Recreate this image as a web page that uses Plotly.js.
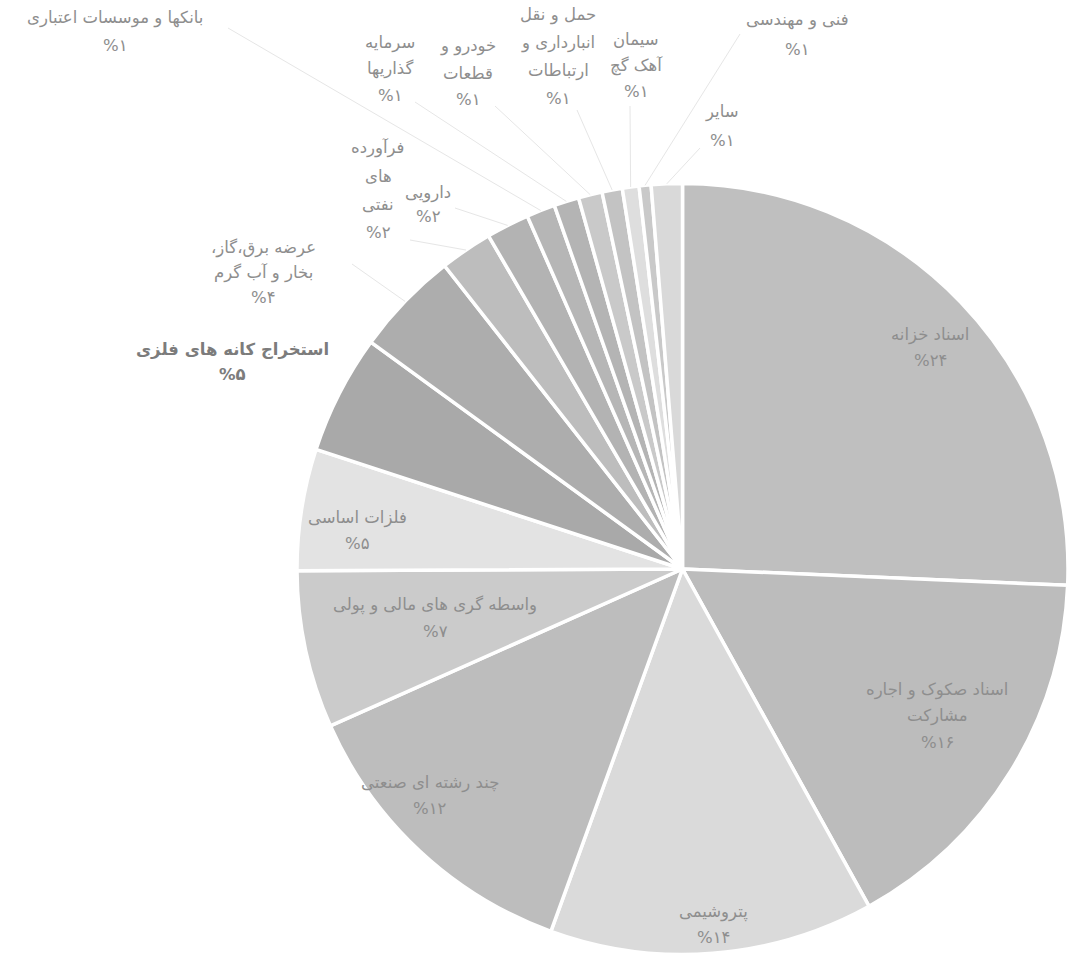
<!DOCTYPE html>
<html>
<head>
<meta charset="utf-8">
<script src="https://cdn.plot.ly/plotly-3.0.1.min.js"></script>
<style>
  html, body { margin: 0; padding: 0; background: #ffffff; }
  #chart { width: 1068px; height: 957px; }
</style>
</head>
<body>
<div id="chart"></div>
<script>
// ---------------- data ----------------
const categories = [
  "اسناد خزانه",
  "اسناد صکوک و اجاره<br>مشارکت",
  "پتروشیمی",
  "چند رشته ای صنعتی",
  "واسطه گری های مالی و پولی",
  "فلزات اساسی",
  "استخراج کانه های فلزی",
  "،عرضه برق،گاز<br>بخار و آب گرم",
  "فرآورده<br>های<br>نفتی",
  "دارویی",
  "بانکها و موسسات اعتباری",
  "سرمایه<br>گذاریها",
  "خودرو و<br>قطعات",
  "حمل و نقل<br>انبارداری و<br>ارتباطات",
  "سیمان<br>آهک گچ",
  "فنی و مهندسی",
  "سایر"
];
const values = [25.7, 16.3, 13.6, 12.8, 6.6, 5.1, 5.0, 4.4, 2.2, 1.8, 1.2, 1.05, 1.0, 0.85, 0.7, 0.5, 1.3];
const pctLabels = [24, 16, 14, 12, 7, 5, 5, 4, 2, 2, 1, 1, 1, 1, 1, 1, 1];

// ---------------- styles / layout ----------------
const sliceColors = ["#bfbfbf", "#bcbcbc", "#dadada", "#bdbdbd", "#cbcbcb", "#e3e3e3", "#a9a9a9", "#adadad",
                     "#bdbdbd", "#b3b3b3", "#b6b6b6", "#b4b4b4", "#c9c9c9", "#c3c3c3", "#dedede", "#c9c9c9", "#d9d9d9"];
const W = 1068, H = 957;
const domX = [297 / W, 1];
const domY = [2 / H, 1 - 183 / H];
// text placement (pixels): [centre x, first line y, line step]
const labelPos = [
  [930, 335, 26], [937, 690, 26], [713, 912, 25], [430, 783, 25], [435, 605, 26], [357, 518, 25],
  [232, 350, 25], [263, 248, 25], [378, 148, 28], [428, 193, 23], [115, 18, 27], [390, 43, 26],
  [468, 46, 27], [558, 15, 28], [636, 40, 26], [797, 20, 30], [722, 112, 28]
];
// end of leader line next to the label (pixels), null = none
const leaderEnd = [null, null, null, null, null, null, null,
  [352, 264], [410, 240], [455, 208], [228, 28], [415, 102], [495, 106], [577, 110], [630, 106], [740, 34], [700, 148]];
const boldLabel = [false, false, false, false, false, false, true, false, false, false, false, false, false, false, false, false, false];

// ---------------- helpers ----------------
const fa = n => String(n).replace(/\d/g, d => "۰۱۲۳۴۵۶۷۸۹"[+d]);
const px2x = px => px / W;
const py2y = py => 1 - py / H;

const CX = W * (domX[0] + domX[1]) / 2;
const CY = H * (1 - (domY[0] + domY[1]) / 2);
const R = Math.min(W * (domX[1] - domX[0]), H * (domY[1] - domY[0])) / 2;

const total = values.reduce((a, b) => a + b, 0);
const annotations = [];
const shapes = [];
let cum = 0;
values.forEach((v, i) => {
  const mid = (cum + v / 2) / total * 2 * Math.PI;
  cum += v;
  const lines = categories[i].split("<br>").concat(["%" + fa(pctLabels[i])]);
  const [lx, ly, step] = labelPos[i];
  lines.forEach((t, k) => {
    annotations.push({
      xref: "paper", yref: "paper",
      x: px2x(lx), y: py2y(ly + k * step),
      xanchor: "center", yanchor: "middle",
      text: boldLabel[i] ? "<b>" + t + "</b>" : t,
      showarrow: false,
      font: { family: "DejaVu Sans, sans-serif", size: 16.5, color: boldLabel[i] ? "#7c7c7c" : "#8e8e8e" }
    });
  });
  if (leaderEnd[i]) {
    const rx = CX + R * Math.sin(mid), ry = CY - R * Math.cos(mid);
    shapes.push({
      type: "line", xref: "paper", yref: "paper",
      x0: px2x(rx), y0: py2y(ry), x1: px2x(leaderEnd[i][0]), y1: py2y(leaderEnd[i][1]),
      line: { color: "#e6e6e6", width: 1 }
    });
  }
});

const trace = {
  type: "pie",
  labels: categories,
  values: values,
  sort: false,
  direction: "clockwise",
  rotation: 0,
  textinfo: "none",
  hoverinfo: "label+percent",
  marker: { colors: sliceColors, line: { color: "#ffffff", width: 3.5 } },
  domain: { x: domX, y: domY },
  showlegend: false
};

const layout = {
  width: W, height: H,
  margin: { l: 0, r: 0, t: 0, b: 0 },
  paper_bgcolor: "#ffffff",
  plot_bgcolor: "#ffffff",
  showlegend: false,
  annotations: annotations,
  shapes: shapes
};

Plotly.newPlot("chart", [trace], layout, { displayModeBar: false, staticPlot: true });
</script>
</body>
</html>
